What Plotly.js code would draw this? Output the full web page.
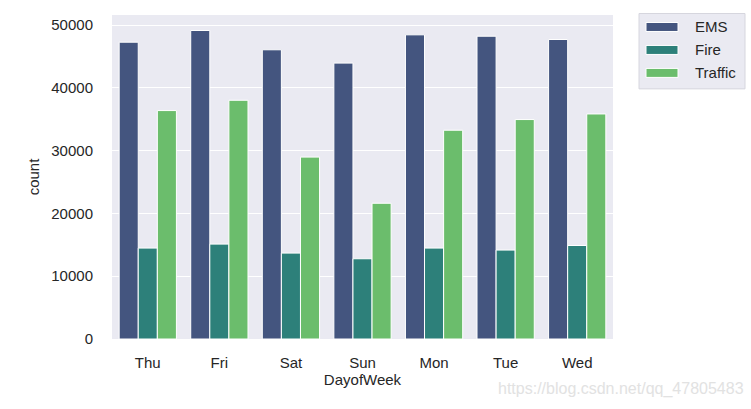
<!DOCTYPE html>
<html>
<head>
<meta charset="utf-8">
<script src="https://cdn.plot.ly/plotly-3.0.1.min.js"></script>
<style>html,body{margin:0;padding:0;background:#fff;}#chart{width:751px;height:409px;}</style>
</head>
<body>
<div id="chart"></div>
<script>
const days = ["Thu", "Fri", "Sat", "Sun", "Mon", "Tue", "Wed"];
const reasons = ["EMS", "Fire", "Traffic"];
const emsCounts = [47270, 49130, 46060, 43940, 48440, 48220, 47700];
const fireCounts = [14480, 15110, 13680, 12780, 14480, 14160, 14890];
const trafficCounts = [36380, 38020, 28970, 21620, 33250, 34950, 35840];
const yTicks = [0, 10000, 20000, 30000, 40000, 50000];
const colors = ["#44557f", "#2d807a", "#6bbd6c"];
const watermark = "https://blog.csdn.net/qq_47805483";

const series = [emsCounts, fireCounts, trafficCounts];
const traces = series.map((vals, i) => ({
  type: "bar",
  name: reasons[i],
  x: days,
  y: vals,
  marker: {color: colors[i], line: {color: "#ffffff", width: 1}},
  showlegend: false,
  hoverinfo: "x+y+name"
}));

const font = {family: "Liberation Sans, Arial, sans-serif", size: 15, color: "#262626"};

// custom legend (wide swatches like matplotlib)
const shapes = [{
  type: "rect", xref: "paper", yref: "paper",
  x0: (639 - 112) / 501, x1: (745 - 112) / 501,
  y0: (339.5 - 89) / 324.5, y1: (339.5 - 13.5) / 324.5,
  fillcolor: "#eaeaf2", line: {color: "#d6d6de", width: 1}, layer: "above"
}];
const annotations = [];
const swY = [27, 50, 73];
reasons.forEach((r, i) => {
  shapes.push({
    type: "rect", xref: "paper", yref: "paper",
    x0: (646 - 112) / 501, x1: (678 - 112) / 501,
    y0: (339.5 - (swY[i] + 4.5)) / 324.5, y1: (339.5 - (swY[i] - 4.5)) / 324.5,
    fillcolor: colors[i], line: {color: "#ffffff", width: 1}, layer: "above"
  });
  annotations.push({
    xref: "paper", yref: "paper",
    x: (693 - 112) / 501, y: (339.5 - swY[i]) / 324.5,
    xanchor: "left", yanchor: "middle", showarrow: false,
    text: r, font: font
  });
});
annotations.push({
  xref: "paper", yref: "paper",
  x: (746 - 112) / 501, y: (339.5 - 390) / 324.5,
  xanchor: "right", yanchor: "middle", showarrow: false,
  text: watermark, font: {family: font.family, size: 16, color: "#e2e2e2"}
});

const layout = {
  width: 751, height: 409,
  margin: {l: 112, r: 138, t: 15, b: 69.5, pad: 0},
  paper_bgcolor: "#ffffff",
  plot_bgcolor: "#eaeaf2",
  font: font,
  barmode: "group",
  bargap: 0.2,
  bargroupgap: 0,
  showlegend: false,
  xaxis: {
    type: "category",
    range: [-0.5, 6.5],
    showgrid: false, zeroline: false, showline: false,
    ticks: "outside", ticklen: 10, tickcolor: "rgba(0,0,0,0)",
    tickfont: font,
    title: {text: "DayofWeek", font: font, standoff: 4}
  },
  yaxis: {
    range: [0, 51600],
    tickvals: yTicks,
    ticktext: yTicks.map(String),
    showgrid: true, gridcolor: "#ffffff", gridwidth: 1,
    zeroline: false, showline: false,
    ticks: "outside", ticklen: 15, tickcolor: "rgba(0,0,0,0)",
    tickfont: font,
    title: {text: "count", font: font, standoff: 8}
  },
  shapes: shapes,
  annotations: annotations
};

Plotly.newPlot("chart", traces, layout, {displayModeBar: false, staticPlot: true});
</script>
</body>
</html>
